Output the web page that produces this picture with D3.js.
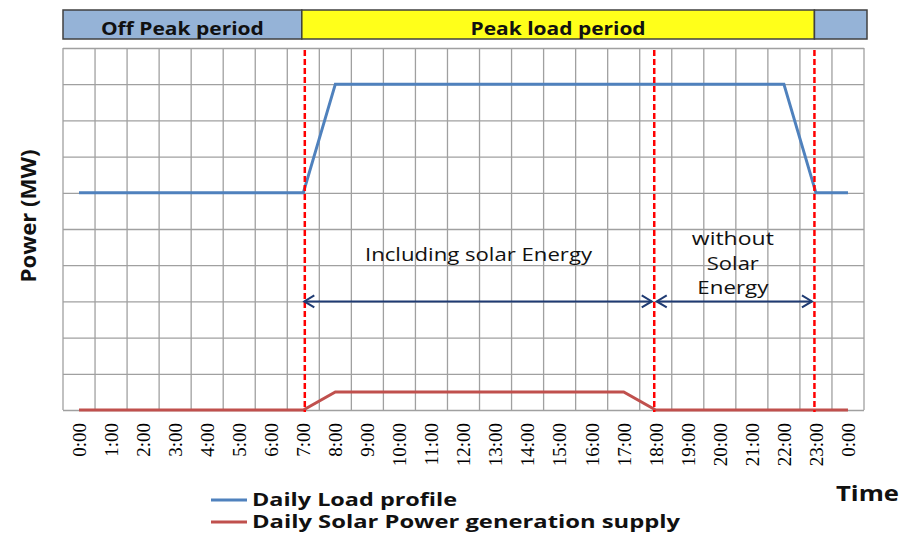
<!DOCTYPE html>
<html>
<head>
<meta charset="utf-8">
<script src="https://cdn.jsdelivr.net/npm/d3@7"></script>
<style>
  body { margin: 0; background: #fff; }
  svg { display: block; }
  text { font-family: "Open Sans", Lato, sans-serif; fill: #111; }
</style>
</head>
<body>
<script>
var hours = ["0:00","1:00","2:00","3:00","4:00","5:00","6:00","7:00","8:00","9:00","10:00","11:00",
             "12:00","13:00","14:00","15:00","16:00","17:00","18:00","19:00","20:00","21:00","22:00","23:00","0:00"],
    loadMW  = [6,6,6,6,6,6,6,6,9,9,9,9,9,9,9,9,9,9,9,9,9,9,9,6,6],
    solarMW = [0,0,0,0,0,0,0,0,0.5,0.5,0.5,0.5,0.5,0.5,0.5,0.5,0.5,0.5,0,0,0,0,0,0,0],
    periods = [{name: "Off Peak period", from: 0, to: 7, color: "#95b3d7"},
               {name: "Peak load period", from: 7, to: 23, color: "#ffff1a"},
               {name: "", from: 23, to: 24.5, color: "#95b3d7"}],
    markers = [7, 18, 23],
    spans = [{from: 7, to: 18, level: 3, label: ["Including solar Energy"]},
             {from: 18, to: 23, level: 3, label: ["without", "Solar", "Energy"]}],
    series = [{name: "Daily Load profile", values: loadMW, color: "#4f81bd"},
              {name: "Daily Solar Power generation supply", values: solarMW, color: "#c0504d"}];

var W = 904, H = 536,
    margin = {top: 48, right: 40, bottom: 126, left: 63},
    width = 801,
    height = 362;

var svg = d3.select("body").append("svg")
    .attr("width", W)
    .attr("height", H);

var g = svg.append("g")
    .attr("transform", "translate(" + margin.left + "," + margin.top + ")");

var x = d3.scaleBand()
    .domain(d3.range(hours.length))
    .range([0, width]);

var y = d3.scaleLinear()
    .domain([0, 10])
    .range([height, 0]);

function cx(i) { return x(Math.floor(i)) + x.bandwidth() / 2 + (i % 1) * x.bandwidth(); }

// fit a text to the width it has in the original picture
function fit(sel, w) {
  sel.attr("textLength", w).attr("lengthAdjust", "spacingAndGlyphs");
}

// grid
g.append("g")
  .call(d3.axisLeft(y).ticks(10).tickSize(-width).tickFormat(""))
  .call(function(s) { s.select(".domain").remove(); })
  .selectAll("line")
    .attr("stroke", "#a0a0a0")
    .attr("stroke-width", 1.3);

g.append("g").selectAll("line")
  .data(d3.range(hours.length + 1))
  .enter().append("line")
    .attr("x1", function(i) { return i < hours.length ? x(i) : width; })
    .attr("x2", function(i) { return i < hours.length ? x(i) : width; })
    .attr("y1", 0)
    .attr("y2", height)
    .attr("stroke", "#a0a0a0")
    .attr("stroke-width", 1.3);

// period band on top
var band = svg.append("g")
    .attr("transform", "translate(" + margin.left + ",10)");

function bandX(v) { return v == 0 ? 0 : v > 24 ? width + 3 : cx(v) - 1.5; }

band.selectAll("rect")
  .data(periods)
  .enter().append("rect")
    .attr("x", function(d) { return bandX(d.from); })
    .attr("width", function(d) { return bandX(d.to) - bandX(d.from); })
    .attr("y", 0)
    .attr("height", 29)
    .attr("fill", function(d) { return d.color; })
    .attr("stroke", "#404040")
    .attr("stroke-width", 1.5);

var bandWidths = [163, 175];
band.selectAll("text")
  .data(periods.filter(function(d) { return d.name; }))
  .enter().append("text")
    .attr("x", function(d) { return (bandX(d.from) + bandX(d.to)) / 2; })
    .attr("y", 25)
    .attr("text-anchor", "middle")
    .style("font-weight", "bold")
    .style("font-size", "18px")
    .text(function(d) { return d.name; })
    .each(function(d, i) { fit(d3.select(this), bandWidths[i]); });

// x axis labels
var xAxis = g.append("g")
    .attr("transform", "translate(0," + height + ")")
    .call(d3.axisBottom(x).tickSize(0).tickFormat(function(i) { return hours[i]; }));

xAxis.select(".domain").remove();
xAxis.selectAll("text")
    .attr("transform", "rotate(-90)")
    .attr("x", -13)
    .attr("y", 0)
    .attr("dy", "0.36em")
    .attr("text-anchor", "end")
    .style("font-family", "'Liberation Serif', serif")
    .style("font-size", "19px")
    .style("fill", "#000");

// lines
var line = d3.line()
    .x(function(d, i) { return cx(i); })
    .y(function(d) { return y(d); });

g.selectAll(".series")
  .data(series)
  .enter().append("path")
    .attr("class", "series")
    .attr("d", function(d) { return line(d.values); })
    .attr("fill", "none")
    .attr("stroke", function(d) { return d.color; })
    .attr("stroke-width", 3);

// red dashed markers
g.selectAll(".marker")
  .data(markers)
  .enter().append("line")
    .attr("class", "marker")
    .attr("x1", function(d) { return cx(d) + (d == 7 ? 1.5 : -1.5); })
    .attr("x2", function(d) { return cx(d) + (d == 7 ? 1.5 : -1.5); })
    .attr("y1", 2)
    .attr("y2", height + 2)
    .attr("stroke", "#ff0000")
    .attr("stroke-width", 2.5)
    .attr("stroke-dasharray", "6,3");

// double arrows
var arrowColor = "#1f3b73";
spans.forEach(function(s) {
  var x1 = cx(s.from) + 1, x2 = cx(s.to) - 4, yy = y(s.level);
  g.append("line")
    .attr("x1", x1).attr("x2", x2)
    .attr("y1", yy).attr("y2", yy)
    .attr("stroke", arrowColor)
    .attr("stroke-width", 2);
  [[x1, 1], [x2, -1]].forEach(function(p) {
    g.append("path")
      .attr("d", "M" + (p[0] + p[1] * 10) + "," + (yy - 6) + "L" + p[0] + "," + yy + "L" + (p[0] + p[1] * 10) + "," + (yy + 6))
      .attr("fill", "none")
      .attr("stroke", arrowColor)
      .attr("stroke-width", 2);
  });
});

g.append("text")
    .attr("x", (cx(7) + cx(18)) / 2 - 1)
    .attr("y", y(3) - 40)
    .attr("text-anchor", "middle")
    .style("font-size", "18px")
    .text(spans[0].label[0])
    .call(fit, 227);

var lineWidths = [82, 52, 71];
g.selectAll(".without")
  .data(spans[1].label)
  .enter().append("text")
    .attr("class", "without")
    .attr("x", (cx(18) + cx(23)) / 2 - 3)
    .attr("y", function(d, i) { return y(3) - 56 + i * 24.5; })
    .attr("text-anchor", "middle")
    .style("font-size", "18px")
    .text(function(d) { return d; })
    .each(function(d, i) { fit(d3.select(this), lineWidths[i]); });

// axis titles
svg.append("text")
    .attr("transform", "translate(36,216) rotate(-90)")
    .attr("text-anchor", "middle")
    .style("font-weight", "bold")
    .style("font-size", "21px")
    .text("Power (MW)")
    .call(fit, 133);

svg.append("text")
    .attr("x", 836)
    .attr("y", 501)
    .style("font-weight", "bold")
    .style("font-size", "21px")
    .text("Time")
    .call(fit, 63);

// legend
var legend = svg.append("g")
    .attr("transform", "translate(211,500)");

var item = legend.selectAll("g")
  .data(series)
  .enter().append("g")
    .attr("transform", function(d, i) { return "translate(0," + i * 22 + ")"; });

item.append("line")
    .attr("x1", 0).attr("x2", 36)
    .attr("stroke", function(d) { return d.color; })
    .attr("stroke-width", 3);

var legendWidths = [205, 428];
item.append("text")
    .attr("x", 41)
    .attr("y", 6)
    .style("font-weight", "bold")
    .style("font-size", "18px")
    .text(function(d) { return d.name; })
    .each(function(d, i) { fit(d3.select(this), legendWidths[i]); });
</script>
</body>
</html>
